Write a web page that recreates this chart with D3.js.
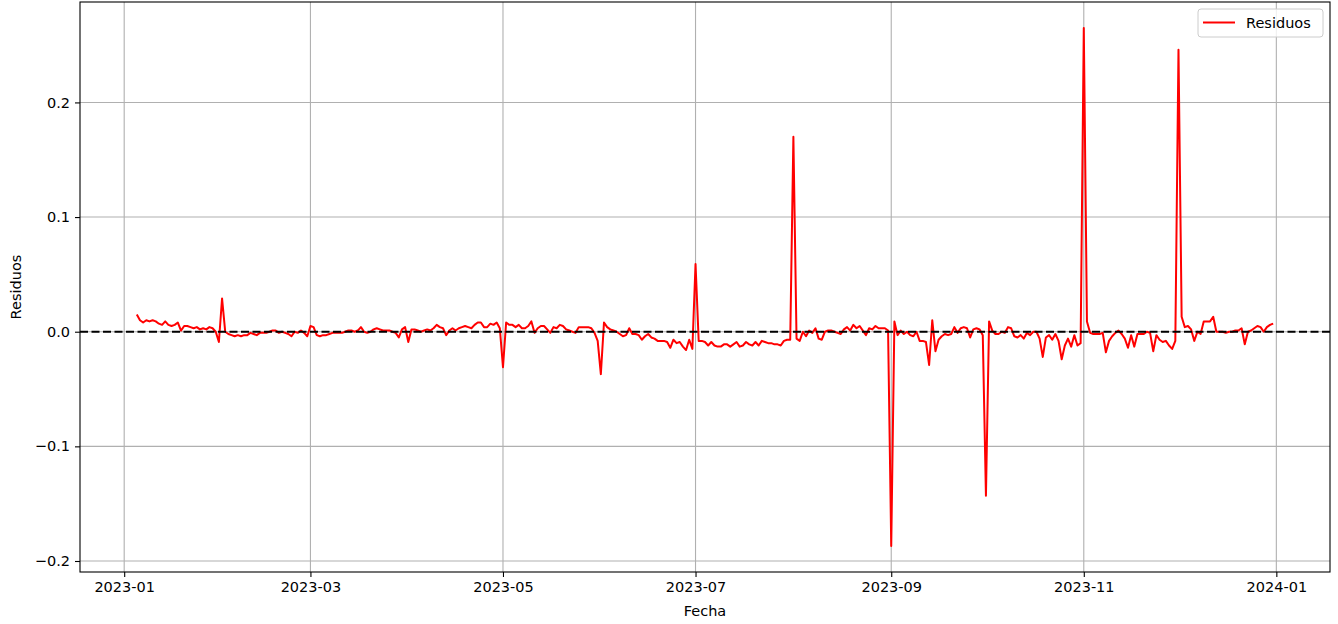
<!DOCTYPE html>
<html lang="es">
<head>
<meta charset="utf-8"/>
<title>Residuos</title>
<script src="https://cdn.jsdelivr.net/npm/d3@7"></script>
<style>
  body { margin: 0; background: #fff; }
  svg { display: block; font-family: "DejaVu Sans", sans-serif; }
</style>
</head>
<body>
<svg id="chart"></svg>
<script>
// residuos diarios, desde el 5 de enero de 2023
const inicio = "2023-01-05"

const resEne = [0.015, 0.010, 0.008, 0.010, 0.009, 0.010, 0.009, 0.007, 0.006, 0.009, 0.006, 0.005, 0.006, 0.008, 0.001, 0.005, 0.005, 0.004, 0.003, 0.004, 0.002, 0.003, 0.002, 0.004, 0.003, 0.000, -0.009]
const resFeb = [0.029, 0.000, -0.002, -0.003, -0.004, -0.003, -0.004, -0.003, -0.003, -0.001, -0.002, -0.003, -0.001, -0.001, -0.001, 0.000, 0.001, 0.001, -0.001, 0.000, -0.001, -0.002, -0.004, 0.000, -0.001, 0.001, -0.001, -0.004]
const resMar = [0.005, 0.004, -0.003, -0.004, -0.003, -0.003, -0.002, -0.001, -0.001, -0.001, -0.001, 0.000, 0.001, 0.001, 0.000, 0.001, 0.004, 0.000, -0.001, 0.000, 0.002, 0.003, 0.002, 0.001, 0.001, 0.001, 0.000, -0.001, -0.005, 0.002, 0.004]
const resAbr = [-0.009, 0.002, 0.002, 0.001, 0.000, 0.001, 0.002, 0.001, 0.003, 0.006, 0.004, 0.003, -0.003, 0.001, 0.003, 0.001, 0.003, 0.004, 0.005, 0.004, 0.003, 0.006, 0.008, 0.008, 0.004, 0.004, 0.007, 0.006, 0.008, 0.003]
const resMay = [-0.031, 0.008, 0.006, 0.006, 0.004, 0.006, 0.003, 0.003, 0.005, 0.009, -0.001, 0.003, 0.005, 0.005, 0.002, -0.001, 0.004, 0.003, 0.006, 0.005, 0.002, 0.001, 0.000, -0.001, 0.004, 0.004, 0.004, 0.004, 0.003, -0.001, -0.008]
const resJun = [-0.037, 0.008, 0.004, 0.002, 0.001, 0.000, -0.002, -0.004, -0.003, 0.003, -0.002, -0.002, -0.003, -0.007, -0.004, -0.002, -0.005, -0.006, -0.008, -0.008, -0.008, -0.009, -0.014, -0.007, -0.010, -0.009, -0.013, -0.016, -0.007, -0.015]
const resJul = [0.059, -0.008, -0.008, -0.009, -0.012, -0.009, -0.012, -0.013, -0.013, -0.011, -0.011, -0.013, -0.011, -0.009, -0.013, -0.012, -0.009, -0.011, -0.012, -0.009, -0.012, -0.008, -0.009, -0.010, -0.010, -0.011, -0.011, -0.012, -0.008, -0.007, -0.007]
const resAgo = [0.170, -0.006, -0.008, 0.000, -0.004, 0.001, -0.001, 0.003, -0.006, -0.007, 0.000, 0.001, 0.001, 0.000, -0.001, -0.002, 0.002, 0.004, 0.001, 0.006, 0.003, 0.005, 0.001, -0.003, 0.003, 0.002, 0.005, 0.003, 0.003, 0.003, 0.001]
const resSep = [-0.187, 0.009, -0.003, 0.001, -0.002, 0.000, -0.003, -0.004, 0.000, -0.008, -0.008, -0.009, -0.029, 0.010, -0.017, -0.007, -0.004, -0.002, -0.003, -0.002, 0.004, -0.001, 0.003, 0.004, 0.003, -0.005, 0.002, 0.003, 0.002, -0.003]
const resOct = [-0.143, 0.009, 0.001, -0.002, -0.002, 0.000, -0.001, 0.004, 0.003, -0.004, -0.005, -0.003, -0.006, -0.001, -0.003, 0.000, 0.000, -0.006, -0.022, -0.005, -0.003, -0.007, -0.002, -0.008, -0.024, -0.012, -0.006, -0.013, -0.003, -0.012, -0.010]
const resNov = [0.265, 0.009, -0.001, -0.002, -0.002, -0.002, -0.001, -0.018, -0.008, -0.004, -0.001, 0.001, -0.002, -0.006, -0.014, -0.003, -0.013, -0.002, -0.002, -0.002, 0.000, -0.001, -0.017, -0.003, -0.007, -0.009, -0.008, -0.012, -0.015, -0.008]
const resDic = [0.246, 0.013, 0.004, 0.005, 0.002, -0.008, 0.000, -0.002, 0.009, 0.009, 0.009, 0.013, 0.000, 0.000, 0.000, -0.001, 0.000, 0.000, 0.001, 0.001, 0.003, -0.011, 0.000, 0.001, 0.003, 0.005, 0.004, 0.000, 0.004, 0.006, 0.007]

const xTicks = ["2023-01", "2023-03", "2023-05", "2023-07", "2023-09", "2023-11", "2024-01"]
const yTicks = [-0.2, -0.1, 0.0, 0.1, 0.2]

const width = 1338
const height = 624
const margin = {top: 2, right: 8, bottom: 52, left: 80}
const fontSize = 14.5

const residuos = [].concat(resEne, resFeb, resMar, resAbr, resMay, resJun,
  resJul, resAgo, resSep, resOct, resNov, resDic)

const t0 = d3.utcParse("%Y-%m-%d")(inicio)
const data = residuos.map((v, i) => ({fecha: d3.utcDay.offset(t0, i), valor: v}))

const svg = d3.select('#chart')
  .attr('width', width)
  .attr('height', height)

// limites con 5% de margen, como matplotlib
const xExt = d3.extent(data, d => d.fecha)
const xPad = (xExt[1] - xExt[0]) * 0.05
const yExt = d3.extent(data, d => d.valor)
const yPad = (yExt[1] - yExt[0]) * 0.05

const x = d3.scaleUtc()
  .domain([new Date(+xExt[0] - xPad), new Date(+xExt[1] + xPad)])
  .range([margin.left, width - margin.right])

const y = d3.scaleLinear()
  .domain([yExt[0] - yPad, yExt[1] + yPad])
  .range([height - margin.bottom, margin.top])

const parseMes = d3.utcParse("%Y-%m")
const xTickDates = xTicks.map(parseMes)

// rejilla
const grid = svg.append('g')
grid.selectAll('line.gx')
  .data(xTickDates)
  .enter()
  .append('line')
  .attr('x1', d => x(d)).attr('x2', d => x(d))
  .attr('y1', margin.top).attr('y2', height - margin.bottom)
  .attr('stroke', '#b0b0b0')
  .attr('stroke-width', 1.1)
grid.selectAll('line.gy')
  .data(yTicks)
  .enter()
  .append('line')
  .attr('x1', margin.left).attr('x2', width - margin.right)
  .attr('y1', d => y(d)).attr('y2', d => y(d))
  .attr('stroke', '#b0b0b0')
  .attr('stroke-width', 1.1)

// linea de residuos
const line = d3.line()
  .x(d => x(d.fecha))
  .y(d => y(d.valor))

svg.append('path')
  .datum(data)
  .attr('d', line)
  .attr('fill', 'none')
  .attr('stroke', '#ff0000')
  .attr('stroke-width', 2)
  .attr('stroke-linejoin', 'round')

// linea en cero
svg.append('line')
  .attr('x1', margin.left).attr('x2', width - margin.right)
  .attr('y1', y(0)).attr('y2', y(0))
  .attr('stroke', '#000')
  .attr('stroke-width', 2)
  .attr('stroke-dasharray', '8,3.5')

// ejes
const xAxis = d3.axisBottom(x)
  .tickValues(xTickDates)
  .tickFormat(d3.utcFormat("%Y-%m"))
  .tickSize(5)
  .tickPadding(5)
const yAxis = d3.axisLeft(y)
  .tickValues(yTicks)
  .tickFormat(d3.format(".1f"))
  .tickSize(5)
  .tickPadding(5)

const gx = svg.append('g')
  .attr('transform', `translate(0,${height - margin.bottom})`)
  .call(xAxis)
const gy = svg.append('g')
  .attr('transform', `translate(${margin.left},0)`)
  .call(yAxis)

for (const g of [gx, gy]) {
  g.select('.domain').remove()
  g.selectAll('.tick line').attr('stroke', '#000').attr('stroke-width', 1.1)
  g.selectAll('.tick text')
    .attr('fill', '#000')
    .style('font-size', fontSize + 'px')
    .style('font-family', '"DejaVu Sans", sans-serif')
}

// marco
svg.append('rect')
  .attr('x', margin.left)
  .attr('y', margin.top)
  .attr('width', width - margin.left - margin.right)
  .attr('height', height - margin.top - margin.bottom)
  .attr('fill', 'none')
  .attr('stroke', '#000')
  .attr('stroke-width', 1.1)

// titulos de ejes
svg.append('text')
  .attr('x', (margin.left + width - margin.right) / 2)
  .attr('y', 616)
  .attr('text-anchor', 'middle')
  .style('font-size', fontSize + 'px')
  .text('Fecha')

svg.append('text')
  .attr('transform', `translate(21,${(margin.top + height - margin.bottom) / 2}) rotate(-90)`)
  .attr('text-anchor', 'middle')
  .style('font-size', fontSize + 'px')
  .text('Residuos')

// leyenda
const legend = svg.append('g')
  .attr('transform', `translate(${width - margin.right - 132},9)`)

legend.append('rect')
  .attr('width', 125)
  .attr('height', 28)
  .attr('rx', 3)
  .attr('fill', '#fff')
  .attr('fill-opacity', 0.8)
  .attr('stroke', '#cccccc')

legend.append('line')
  .attr('x1', 5).attr('x2', 37)
  .attr('y1', 13.5).attr('y2', 13.5)
  .attr('stroke', '#ff0000')
  .attr('stroke-width', 2)

legend.append('text')
  .attr('x', 48)
  .attr('y', 19)
  .style('font-size', fontSize + 'px')
  .attr('fill', '#000')
  .text('Residuos')
</script>
</body>
</html>
